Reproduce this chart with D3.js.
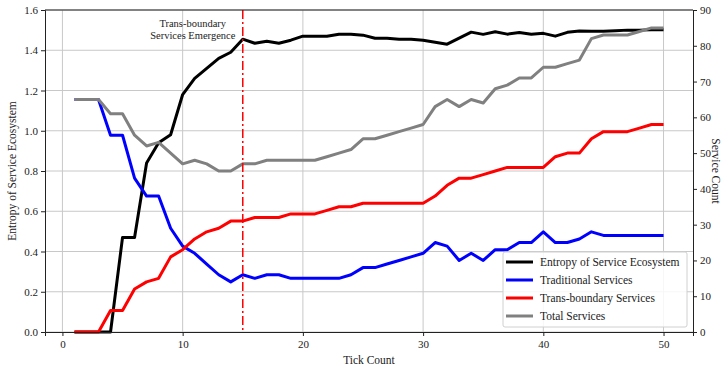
<!DOCTYPE html>
<html>
<head>
<meta charset="utf-8">
<script src="https://cdn.jsdelivr.net/npm/d3@7"></script>
<style>
  body { margin: 0; background: #fff; }
  text { font-family: "Liberation Serif", "Times New Roman", serif; fill: #222; }
</style>
</head>
<body>
<div id="chart"></div>
<script>
// chart data
var ticks = d3.range(1, 51);
var entropy = [0, 0, 0, 0, 0.47, 0.47, 0.84, 0.94, 0.98, 1.18,
  1.26, 1.31, 1.36, 1.39, 1.455, 1.435, 1.445, 1.435, 1.45, 1.47,
  1.47, 1.47, 1.48, 1.48, 1.475, 1.46, 1.46, 1.455, 1.455, 1.45,
  1.44, 1.43, 1.46, 1.49, 1.479, 1.492, 1.48, 1.488, 1.479, 1.484,
  1.47, 1.489, 1.496, 1.495, 1.495, 1.497, 1.5, 1.5, 1.502, 1.502];
var traditional = [65, 65, 65, 55, 55, 43, 38, 38, 29, 24,
  22, 19, 16, 14, 16, 15, 16, 16, 15, 15,
  15, 15, 15, 16, 18, 18, 19, 20, 21, 22,
  25, 24, 20, 22, 20, 23, 23, 25, 25, 28,
  25, 25, 26, 28, 27, 27, 27, 27, 27, 27];
var transBoundary = [0, 0, 0, 6, 6, 12, 14, 15, 21, 23,
  26, 28, 29, 31, 31, 32, 32, 32, 33, 33,
  33, 34, 35, 35, 36, 36, 36, 36, 36, 36,
  38, 41, 43, 43, 44, 45, 46, 46, 46, 46,
  49, 50, 50, 54, 56, 56, 56, 57, 58, 58];
var total = traditional.map((d, i) => d + transBoundary[i]);

var xTicks = [0, 10, 20, 30, 40, 50];
var leftTicks = [0, 0.2, 0.4, 0.6, 0.8, 1.0, 1.2, 1.4, 1.6];
var rightTicks = d3.range(0, 91, 10);
var emergenceTick = 15;

var series = [
  { name: "Entropy of Service Ecosystem", values: entropy, color: "#000000", axis: "left" },
  { name: "Traditional Services", values: traditional, color: "#0000ff", axis: "right" },
  { name: "Trans-boundary Services", values: transBoundary, color: "#ff0000", axis: "right" },
  { name: "Total Services", values: total, color: "#808080", axis: "right" }
];

var svgWidth = 723;
var svgHeight = 372;
var margin = { top: 10, right: 30, bottom: 40, left: 45 };
var chartWidth = svgWidth - margin.left - margin.right;
var chartHeight = svgHeight - margin.top - margin.bottom;

var svg = d3.select("#chart")
  .append("svg")
  .attr("width", svgWidth)
  .attr("height", svgHeight);

var chartGroup = svg.append("g")
  .attr("transform", `translate(${margin.left}, ${margin.top})`);

// scales
var xScale = d3.scaleLinear().domain([-1.45, 52.45]).range([0, chartWidth]);
var yLeft = d3.scaleLinear().domain([0, 1.6]).range([chartHeight, 0]);
var yRight = d3.scaleLinear().domain([0, 90]).range([chartHeight, 0]);

// grid
chartGroup.append("g")
  .selectAll("line.vgrid")
  .data(xTicks)
  .enter()
  .append("line")
  .attr("x1", d => xScale(d)).attr("x2", d => xScale(d))
  .attr("y1", 0).attr("y2", chartHeight)
  .attr("stroke", "#c8c8c8").attr("stroke-width", 1);

chartGroup.append("g")
  .selectAll("line.hgrid")
  .data(leftTicks)
  .enter()
  .append("line")
  .attr("x1", 0).attr("x2", chartWidth)
  .attr("y1", d => yLeft(d)).attr("y2", d => yLeft(d))
  .attr("stroke", "#c8c8c8").attr("stroke-width", 1);

// lines
var lineGroup = chartGroup.append("g");
series.forEach(function(s) {
  var yS = s.axis === "left" ? yLeft : yRight;
  var line = d3.line()
    .x((d, i) => xScale(ticks[i]))
    .y(d => yS(d));
  lineGroup.append("path")
    .datum(s.values)
    .attr("d", line)
    .attr("fill", "none")
    .attr("stroke", s.color)
    .attr("stroke-width", 3)
    .attr("stroke-linejoin", "round");
});

// emergence marker
chartGroup.append("line")
  .attr("x1", xScale(emergenceTick)).attr("x2", xScale(emergenceTick))
  .attr("y1", 0).attr("y2", chartHeight)
  .attr("stroke", "#ff0000")
  .attr("stroke-width", 1.5)
  .attr("stroke-dasharray", "9,3,2,3");

chartGroup.append("text")
  .attr("x", xScale(emergenceTick) - 50)
  .attr("y", 17)
  .attr("text-anchor", "middle")
  .attr("font-size", "10.5px")
  .text("Trans-boundary");
chartGroup.append("text")
  .attr("x", xScale(emergenceTick) - 50)
  .attr("y", 29)
  .attr("text-anchor", "middle")
  .attr("font-size", "10.5px")
  .text("Services Emergence");

// axes
var bottomAxis = d3.axisBottom(xScale).tickValues(xTicks).tickSize(4).tickPadding(4);
var leftAxis = d3.axisLeft(yLeft).tickValues(leftTicks).tickFormat(d3.format(".1f")).tickSize(4).tickPadding(3);
var rightAxis = d3.axisRight(yRight).tickValues(rightTicks).tickSize(4).tickPadding(3);

var gx = chartGroup.append("g")
  .attr("transform", `translate(0, ${chartHeight})`)
  .call(bottomAxis);
var gl = chartGroup.append("g").call(leftAxis);
var gr = chartGroup.append("g")
  .attr("transform", `translate(${chartWidth}, 0)`)
  .call(rightAxis);

[gx, gl, gr].forEach(function(g) {
  g.selectAll("text").attr("font-size", "11px").style("fill", "#222")
    .attr("font-family", "Liberation Serif, serif");
  g.selectAll("line").attr("stroke", "#222");
  g.select(".domain").attr("stroke", "#222");
});

// top frame
chartGroup.append("line")
  .attr("x1", 0).attr("x2", chartWidth)
  .attr("y1", 0).attr("y2", 0)
  .attr("stroke", "#222");

// axis labels
chartGroup.append("text")
  .attr("transform", "rotate(-90)")
  .attr("x", -chartHeight / 2)
  .attr("y", -29)
  .attr("text-anchor", "middle")
  .attr("font-size", "11.5px")
  .text("Entropy of Service Ecosystem");

chartGroup.append("text")
  .attr("transform", `translate(${chartWidth + 19}, ${chartHeight / 2}) rotate(90)`)
  .attr("text-anchor", "middle")
  .attr("font-size", "11.5px")
  .text("Service Count");

chartGroup.append("text")
  .attr("x", chartWidth / 2)
  .attr("y", chartHeight + 32)
  .attr("text-anchor", "middle")
  .attr("font-size", "11.5px")
  .text("Tick Count");

// legend
var legend = chartGroup.append("g")
  .attr("transform", `translate(${chartWidth - 190}, ${chartHeight - 80})`);

legend.append("rect")
  .attr("width", 184).attr("height", 75)
  .attr("rx", 2)
  .attr("fill", "#fff").attr("fill-opacity", 0.85)
  .attr("stroke", "#d0d0d0");

var rows = legend.selectAll("g.row")
  .data(series)
  .enter()
  .append("g")
  .attr("transform", (d, i) => `translate(0, ${10 + i * 18})`);

rows.append("line")
  .attr("x1", 3).attr("x2", 30)
  .attr("y1", 0).attr("y2", 0)
  .attr("stroke", d => d.color)
  .attr("stroke-width", 3);

rows.append("text")
  .attr("x", 37)
  .attr("y", 4)
  .attr("font-size", "11.5px")
  .text(d => d.name);
</script>
</body>
</html>
